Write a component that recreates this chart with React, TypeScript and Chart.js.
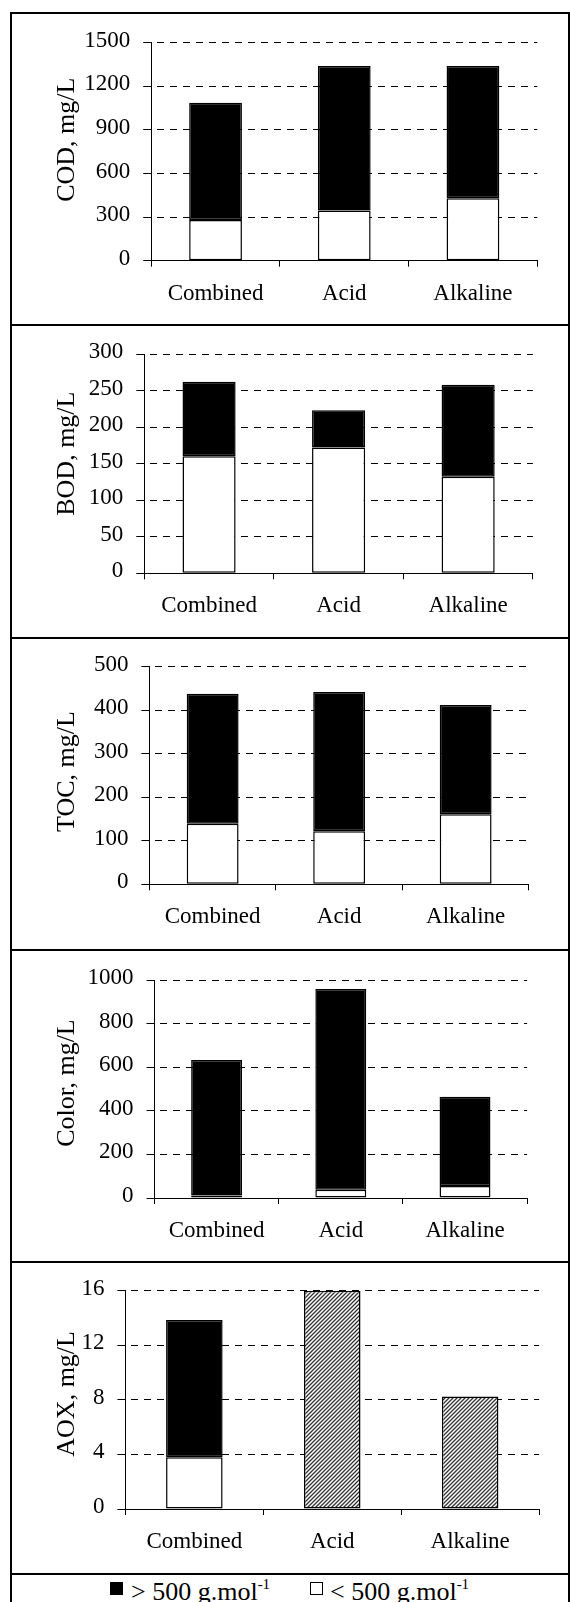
import React, { useEffect, useRef } from 'react';
import { Chart, registerables } from 'chart.js';

Chart.register(...registerables);

// ---------- data ----------
const categories = ['Combined', 'Acid', 'Alkaline'];

const codLow = [280, 345, 430];
const codHigh = [807, 995, 910];

const bodLow = [160, 172, 132];
const bodHigh = [102, 51, 126];

const tocLow = [139, 122, 161];
const tocHigh = [299, 320, 251];

const colorLow = [12, 38, 55];
const colorHigh = [621, 921, 410];

const aoxLow = [3.8, null, null];
const aoxHigh = [10.05, null, null];
const aoxTotal = [null, 16, 8.25];

const yTitles = ['COD, mg/L', 'BOD, mg/L', 'TOC, mg/L', 'Color, mg/L', 'AOX, mg/L'];
const yMax = [1500, 300, 500, 1000, 16];
const yStep = [300, 50, 100, 200, 4];
const legendLow = '< 500 g.mol';
const legendHigh = '> 500 g.mol';
const legendSup = '-1';

// ---------- layout (page coordinates) ----------
const FONT = "'Liberation Serif', 'Times New Roman', serif";
const CANVAS_LEFT = 12;
const CANVAS_W = 556;
const PANELS = [
  { top: 14, h: 310, l: 151.2, r: 537.3, t: 42.7, b: 260.7, titleShift: -12 },
  { top: 326, h: 311, l: 144.3, r: 532.9, t: 354, b: 573.3, titleShift: -10 },
  { top: 639, h: 310, l: 149.4, r: 528.9, t: 666.7, b: 884.3, titleShift: -4 },
  { top: 951, h: 310, l: 154.5, r: 527.1, t: 980, b: 1198, titleShift: -6 },
  { top: 1263, h: 310, l: 125.4, r: 539.1, t: 1290.7, b: 1509, titleShift: -6 },
];
const SEPARATORS = [324, 637, 949, 1261, 1573];

function makeHatch(): CanvasPattern | string {
  const c = document.createElement('canvas');
  c.width = 4;
  c.height = 4;
  const g = c.getContext('2d');
  if (!g) return '#888';
  g.fillStyle = '#fff';
  g.fillRect(0, 0, 4, 4);
  g.strokeStyle = '#333';
  g.lineWidth = 1.3;
  g.beginPath();
  g.moveTo(0, 4);
  g.lineTo(4, 0);
  g.moveTo(-1, 1);
  g.lineTo(1, -1);
  g.moveTo(3, 5);
  g.lineTo(5, 3);
  g.stroke();
  return g.createPattern(c, 'repeat') || '#888';
}

function Panel({ index }: { index: number }) {
  const ref = useRef<HTMLCanvasElement>(null);
  const p = PANELS[index];

  useEffect(() => {
    if (!ref.current) return;
    const barBase = {
      borderColor: '#000',
      borderWidth: 1.5,
      borderSkipped: false as const,
      barPercentage: 0.41,
      categoryPercentage: 1.0,
    };
    let datasets: any[];
    if (index === 0) {
      datasets = [
        { ...barBase, label: legendLow, data: codLow, backgroundColor: '#fff' },
        { ...barBase, label: legendHigh, data: codHigh, backgroundColor: '#000' },
      ];
    } else if (index === 1) {
      datasets = [
        { ...barBase, label: legendLow, data: bodLow, backgroundColor: '#fff' },
        { ...barBase, label: legendHigh, data: bodHigh, backgroundColor: '#000' },
      ];
    } else if (index === 2) {
      datasets = [
        { ...barBase, label: legendLow, data: tocLow, backgroundColor: '#fff' },
        { ...barBase, label: legendHigh, data: tocHigh, backgroundColor: '#000' },
      ];
    } else if (index === 3) {
      datasets = [
        { ...barBase, label: legendLow, data: colorLow, backgroundColor: '#fff' },
        { ...barBase, label: legendHigh, data: colorHigh, backgroundColor: '#000' },
      ];
    } else {
      datasets = [
        { ...barBase, label: legendLow, data: aoxLow, backgroundColor: '#fff' },
        { ...barBase, label: legendHigh, data: aoxHigh, backgroundColor: '#000' },
        { ...barBase, label: 'Total', data: aoxTotal, backgroundColor: makeHatch() },
      ];
    }

    const plotLeft = p.l - CANVAS_LEFT;
    const plotBottom = p.b - p.top;
    const xHeight = p.h - plotBottom;

    const titleShiftPlugin = {
      id: 'titleShift',
      afterLayout(chart: any) {
        const s = chart.scales.y;
        if (!s || s.__shifted) return;
        const orig = s.drawTitle.bind(s);
        s.drawTitle = function () {
          const ctx = chart.ctx;
          ctx.save();
          ctx.translate(0, p.titleShift);
          orig();
          ctx.restore();
        };
        s.__shifted = true;
      },
    };

    const chart = new Chart(ref.current, {
      type: 'bar',
      data: { labels: categories, datasets },
      plugins: [titleShiftPlugin],
      options: {
        animation: false,
        responsive: false,
        devicePixelRatio: 1,
        layout: {
          padding: { top: p.t - p.top, right: CANVAS_LEFT + CANVAS_W - p.r, left: 0, bottom: 0 },
        },
        plugins: {
          legend: { display: false },
          tooltip: { enabled: false },
        },
        scales: {
          x: {
            stacked: true,
            offset: true,
            ticks: {
              color: '#000',
              font: { family: FONT, size: 23 },
              padding: 13,
            },
            grid: {
              display: true,
              drawOnChartArea: false,
              drawTicks: true,
              tickLength: 6,
              tickColor: '#000',
              tickWidth: 1,
              offset: true,
            },
            border: { display: true, color: '#000', width: 1 },
            afterFit: (s: any) => {
              s.height = xHeight;
            },
          },
          y: {
            stacked: true,
            min: 0,
            max: yMax[index],
            ticks: {
              stepSize: yStep[index],
              color: '#000',
              font: { family: FONT, size: 23 },
              padding: 13,
              labelOffset: -2,
              callback: (v: any) => String(v),
            },
            grid: {
              color: '#000',
              lineWidth: 1,
              drawTicks: true,
              tickLength: 8,
              tickColor: '#000',
              tickWidth: 1,
            },
            border: { display: true, color: '#000', width: 1, dash: [7, 6], dashOffset: 8 },
            title: {
              display: true,
              text: yTitles[index],
              color: '#000',
              font: { family: FONT, size: 26 },
              padding: { top: 40, bottom: 0 },
            },
            afterFit: (s: any) => {
              s.width = plotLeft;
            },
          },
        },
      },
    });
    return () => chart.destroy();
  }, [index]);

  return (
    <canvas
      ref={ref}
      width={CANVAS_W}
      height={p.h}
      style={{
        position: 'absolute',
        left: CANVAS_LEFT,
        top: p.top,
        width: CANVAS_W,
        height: p.h,
        display: 'block',
      }}
    />
  );
}

export default function App() {
  const textStyle: React.CSSProperties = {
    position: 'absolute',
    fontFamily: FONT,
    fontSize: 26,
    lineHeight: '26px',
    whiteSpace: 'nowrap',
    color: '#000',
  };
  const supStyle: React.CSSProperties = {
    fontSize: 15,
    lineHeight: 0,
    verticalAlign: 'baseline',
    position: 'relative',
    top: -11,
  };
  return (
    <div
      style={{
        position: 'absolute',
        left: 0,
        top: 0,
        width: 570,
        height: 1602,
        overflow: 'hidden',
        background: '#fff',
      }}
    >
      <div
        style={{
          position: 'absolute',
          left: 10,
          top: 12,
          width: 560,
          height: 1620,
          border: '2px solid #000',
          boxSizing: 'border-box',
        }}
      />
      {SEPARATORS.map((y) => (
        <div
          key={y}
          style={{ position: 'absolute', left: 10, top: y, width: 560, height: 2, background: '#000' }}
        />
      ))}
      {PANELS.map((_, i) => (
        <Panel key={i} index={i} />
      ))}
      {/* legend */}
      <div style={{ position: 'absolute', left: 110, top: 1582, width: 13, height: 13, background: '#000' }} />
      <div style={{ ...textStyle, left: 131, top: 1579 }}>
        {legendHigh}
        <span style={supStyle}>{legendSup}</span>
      </div>
      <div
        style={{
          position: 'absolute',
          left: 310,
          top: 1582,
          width: 13,
          height: 13,
          background: '#fff',
          border: '1.5px solid #000',
          boxSizing: 'border-box',
        }}
      />
      <div style={{ ...textStyle, left: 330, top: 1579 }}>
        {legendLow}
        <span style={supStyle}>{legendSup}</span>
      </div>
    </div>
  );
}
